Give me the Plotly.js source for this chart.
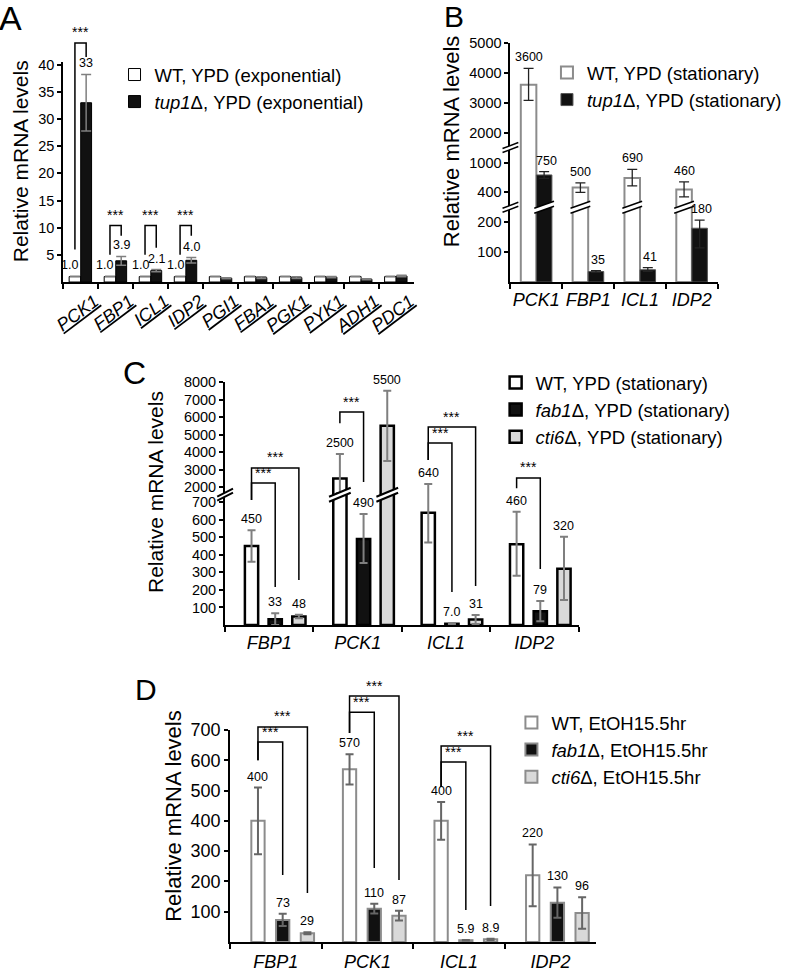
<!DOCTYPE html>
<html><head><meta charset="utf-8">
<script src="https://cdn.plot.ly/plotly-3.0.1.min.js"></script>
<style>body{margin:0;background:#fff}</style>
</head><body><div id="chart" style="width:787px;height:976px"></div>
<script>
// ---------------- data ----------------
// Panel A (exponential, YPD)
const A_genes = ['PCK1','FBP1','ICL1','IDP2','PGI1','FBA1','PGK1','PYK1','ADH1','PDC1'];
const A_wt = [1.0,1.0,1.0,1.0,1.0,1.0,1.0,1.0,1.0,1.0];
const A_wtErr = [0.05,0.05,0.05,0.05,0.05,0.05,0.05,0.05,0.05,0.05];
const A_tup1 = [33,3.9,2.1,4.0,0.7,0.8,0.8,0.9,0.5,1.1];
const A_tup1Err = [5.2,0.8,0.2,0.5,0.1,0.15,0.15,0.1,0.1,0.15];
const A_labeled = 4;
const A_yticks = [5,10,15,20,25,30,35,40];

// Panel B (stationary, YPD) – broken axis
const B_genes = ['PCK1','FBP1','ICL1','IDP2'];
const B_wt = [3600,500,690,460];
const B_wtHi = [4150,590,860,610];
const B_wtLo = [3080,400,530,370];
const B_tup1 = [750,35,41,180];
const B_tup1Hi = [815,38,48,214];
const B_tup1Lo = [680,32,36,114];
const B_yticks = [100,200,400,1000,2000,3000,4000,5000];
const B_knots = [0,200,400,1000,2000,5000];
const B_pos = [0,2,3,4,5,8];
const B_gaps = [[200,400],[1000,2000]];
const B_barBreaks = [[0,1,0],[1,0,0],[2,0,0],[3,0,0]]; // [gene, series, gap]

// Panel C (stationary, YPD) – broken axis
const C_genes = ['FBP1','PCK1','ICL1','IDP2'];
const C_wt = [450,2500,640,460];
const C_wtHi = [540,3900,2180,645];
const C_wtLo = [360,1500,470,280];
const C_fab1 = [33,490,7.0,79];
const C_fab1Hi = [67,633,10,137];
const C_fab1Lo = [0,354,4,21];
const C_cti6 = [48,5500,31,320];
const C_cti6Hi = [58,7500,57,503];
const C_cti6Lo = [38,3500,5,143];
const C_yticks = [100,200,300,400,500,600,700,2000,3000,4000,5000,6000,7000,8000];
const C_knots = [0,700,2000,8000];
const C_pos = [0,7,7.85,13.85];
const C_gaps = [[700,2000]];
const C_barBreaks = [[1,0,0],[1,2,0]];

// Panel D (EtOH 15.5 hr)
const D_genes = ['FBP1','PCK1','ICL1','IDP2'];
const D_wt = [400,570,400,220];
const D_wtErr = [110,50,62,102];
const D_fab1 = [73,110,5.9,130];
const D_fab1Err = [20,16,1,50];
const D_cti6 = [29,87,8.9,96];
const D_cti6Err = [3,16,2,52];
const D_yticks = [100,200,300,400,500,600,700];

// significance brackets: [gene, fromSeries, toSeries, leftLegBottom, top, rightLegBottom] (axis units)
const A_brackets = [[0,0,1,6.0,44.0,41.4],[1,0,1,5.0,10.4,8.5],[2,0,1,5.0,10.4,6.3],[3,0,1,5.0,10.4,8.5]];
const C_brackets = [[0,0,1,7.12,8.09,2.17],[0,0,2,7.12,8.95,2.56],[1,0,1,11.5,12.14,8.15],
                    [2,0,1,9.4,10.37,1.88],[2,0,2,9.4,11.28,2.22],[3,0,1,7.8,8.38,3.19]];
const D_brackets = [[0,0,1,600,660,221],[0,0,2,600,710,162],[1,0,1,690,759,244],
                    [1,0,2,690,812,205],[2,0,1,512,594,106],[2,0,2,512,647,119]];

// ---------------- geometry helpers ----------------
const FONT = 'Liberation Sans, Arial, Helvetica, sans-serif';
const W = 787, H = 976;
const PANELS = {
  A:{x0:64, x1:419, yTop:62, yBot:282, n:10, ymax:40.5, xa:'x', ya:'y'},
  B:{x0:517, x1:727, yTop:43, yBot:282, n:4, ymax:8, xa:'x2', ya:'y2'},
  C:{x0:228, x1:586, yTop:382, yBot:625, n:4, ymax:13.85, xa:'x3', ya:'y3'},
  D:{x0:233, x1:604, yTop:730, yBot:942, n:4, ymax:700, xa:'x4', ya:'y4'}
};
const xpx = (p, xd) => p.x0 + (xd + 0.5) / p.n * (p.x1 - p.x0);
const ypx = (p, yd) => p.yBot - yd / p.ymax * (p.yBot - p.yTop);
const fx = px => px / W;
const fy = py => 1 - py / H;
function piecewise(knots, pos) {
  return v => {
    let i = 1;
    while (i < knots.length - 1 && v > knots[i]) i++;
    return pos[i-1] + (v - knots[i-1]) / (knots[i] - knots[i-1]) * (pos[i] - pos[i-1]);
  };
}
const ident = v => v;
const dB = piecewise(B_knots, B_pos);
const dC = piecewise(C_knots, C_pos);
const fmt = v => v < 10 ? v.toFixed(1) : String(Math.round(v));

const traces = [], shapes = [], annotations = [];

function addBar(p, cats, vals, hi, lo, d, o) {
  traces.push({
    type:'bar', x: cats, y: vals.map(d), offset: o.c - o.w/2, width: o.w,
    xaxis: p.xa, yaxis: p.ya, name: o.name, legend: o.legend,
    marker:{color:o.fill, line:{color:o.line, width:o.lw}},
    error_y:{type:'data', symmetric:false,
      array: vals.map((v,i)=>d(hi[i])-d(v)),
      arrayminus: vals.map((v,i)=>Math.max(0, d(v)-d(lo[i]))),
      color:o.ec, thickness:o.et, width:o.ew},
    hoverinfo:'skip', cliponaxis:false
  });
}
function addLabels(p, vals, hi, d, center, n, size, xshift) {
  for (let i = 0; i < n; i++) {
    annotations.push({xref:'paper', yref:'paper', x: fx(xpx(p, i + center)),
      y: fy(ypx(p, d(hi[i])) - 2), xanchor:'center', yanchor:'bottom', xshift: xshift || 0,
      text: fmt(vals[i]), showarrow:false, font:{family:FONT, size:size, color:'#000000'}});
  }
}
function addBrackets(p, list, centers) {
  list.forEach(b => {
    const xl = xpx(p, b[0] + centers[b[1]]), xr = xpx(p, b[0] + centers[b[2]]);
    const yl = ypx(p, b[3]), yt = ypx(p, b[4]), yr = ypx(p, b[5]);
    shapes.push({type:'path', xref:'paper', yref:'paper',
      path:`M${fx(xl)},${fy(yl)} L${fx(xl)},${fy(yt)} L${fx(xr)},${fy(yt)} L${fx(xr)},${fy(yr)}`,
      line:{color:'#000', width:1.5}});
    annotations.push({xref:'paper', yref:'paper', x: fx((xl+xr)/2), y: fy(yt - 0.5),
      xanchor:'center', yanchor:'bottom', text:'***', showarrow:false,
      font:{family:FONT, size:14, color:'#000'}});
  });
}
function addBreak(cx, cy, hw, rise, gap, lw) {
  const L = cx - hw, R = cx + hw;
  const t1 = cy - gap/2 + rise/2, t2 = cy - gap/2 - rise/2;
  const b1 = t1 + gap, b2 = t2 + gap;
  shapes.push({type:'path', xref:'paper', yref:'paper',
    path:`M${fx(L)},${fy(t1)} L${fx(R)},${fy(t2)} L${fx(R)},${fy(b2)} L${fx(L)},${fy(b1)} Z`,
    fillcolor:'#fff', line:{width:0}});
  [[t1,t2],[b1,b2]].forEach(s => shapes.push({type:'line', xref:'paper', yref:'paper',
    x0:fx(L), y0:fy(s[0]), x1:fx(R), y1:fy(s[1]), line:{color:'#000', width:lw}}));
}

// ---------------- Panel A ----------------
const PA = PANELS.A, A_c = [-0.165, 0.155], A_w = [0.33, 0.31];
addBar(PA, A_genes, A_wt, A_wt.map((v,i)=>v+A_wtErr[i]), A_wt.map((v,i)=>v-A_wtErr[i]), ident,
  {c:A_c[0], w:A_w[0], name:'WT, YPD (exponential)', legend:'legend', fill:'#fff', line:'#000', lw:1,
   ec:'#7f7f7f', et:1.5, ew:5});
addBar(PA, A_genes, A_tup1, A_tup1.map((v,i)=>v+A_tup1Err[i]), A_tup1.map((v,i)=>v-A_tup1Err[i]), ident,
  {c:A_c[1], w:A_w[1], name:'<i>tup1</i>Δ, YPD (exponential)', legend:'legend', fill:'#111', line:'#000', lw:1,
   ec:'#7f7f7f', et:1.5, ew:5});
addLabels(PA, A_wt, A_wt.map((v,i)=>v+A_wtErr[i]), ident, A_c[0], A_labeled, 12.5, -5);
addLabels(PA, A_tup1, A_tup1.map((v,i)=>v+A_tup1Err[i]), ident, A_c[1], A_labeled, 12.5, 0);
addBrackets(PA, A_brackets, A_c);

// ---------------- Panel B ----------------
const PB = PANELS.B, B_c = [-0.15, 0.15], B_w = 0.3;
addBar(PB, B_genes, B_wt, B_wtHi, B_wtLo, dB,
  {c:B_c[0], w:B_w, name:'WT, YPD (stationary)', legend:'legend2', fill:'#fff', line:'#8c8c8c', lw:2,
   ec:'#222', et:1.3, ew:5});
addBar(PB, B_genes, B_tup1, B_tup1Hi, B_tup1Lo, dB,
  {c:B_c[1], w:B_w, name:'<i>tup1</i>Δ, YPD (stationary)', legend:'legend2', fill:'#111', line:'#555', lw:1,
   ec:'#222', et:1.3, ew:5});
addLabels(PB, B_wt, B_wtHi, dB, B_c[0], 4, 12.5, 0);
addLabels(PB, B_tup1, B_tup1Hi, dB, B_c[1], 4, 12.5, 2);
const B_gapPos = B_gaps.map(g => (dB(g[0]) + dB(g[1])) / 2);
B_gapPos.forEach(g => addBreak(PB.x0, ypx(PB, g), 8, 6, 4, 1.5));
B_barBreaks.forEach(b => addBreak(xpx(PB, b[0] + B_c[b[1]]), ypx(PB, B_gapPos[b[2]]), 10, 7, 5, 1.5));

// ---------------- Panel C ----------------
const PC = PANELS.C, C_c = [-0.201, 0.067, 0.335], C_w = 0.15;
const C_style = {line:'#000', lw:2.5, ec:'#7f7f7f', et:2, ew:4, w:C_w};
addBar(PC, C_genes, C_wt, C_wtHi, C_wtLo, dC, Object.assign({c:C_c[0], name:'WT, YPD (stationary)', legend:'legend3', fill:'#fff'}, C_style));
addBar(PC, C_genes, C_fab1, C_fab1Hi, C_fab1Lo, dC, Object.assign({c:C_c[1], name:'<i>fab1</i>Δ, YPD (stationary)', legend:'legend3', fill:'#111'}, C_style));
addBar(PC, C_genes, C_cti6, C_cti6Hi, C_cti6Lo, dC, Object.assign({c:C_c[2], name:'<i>cti6</i>Δ, YPD (stationary)', legend:'legend3', fill:'#d9d9d9'}, C_style));
addLabels(PC, C_wt, C_wtHi, dC, C_c[0], 4, 12.5, 0);
addLabels(PC, C_fab1, C_fab1Hi, dC, C_c[1], 4, 12.5, 0);
addLabels(PC, C_cti6, C_cti6Hi, dC, C_c[2], 4, 12.5, 0);
addBrackets(PC, C_brackets, C_c);
const C_gapPos = C_gaps.map(g => (dC(g[0]) + dC(g[1])) / 2);
C_gapPos.forEach(g => addBreak(PC.x0, ypx(PC, g), 8, 8, 4, 2));
C_barBreaks.forEach(b => addBreak(xpx(PC, b[0] + C_c[b[1]]), ypx(PC, C_gapPos[b[2]]), 11, 9, 5, 2));

// ---------------- Panel D ----------------
const PD = PANELS.D, D_c = [-0.195, 0.075, 0.345], D_w = 0.145;
const D_style = {line:'#8c8c8c', lw:2, ec:'#666', et:2, ew:4, w:D_w};
const hiOf = (v, e) => v.map((x,i)=>x+e[i]), loOf = (v, e) => v.map((x,i)=>x-e[i]);
addBar(PD, D_genes, D_wt, hiOf(D_wt,D_wtErr), loOf(D_wt,D_wtErr), ident, Object.assign({c:D_c[0], name:'WT, EtOH15.5hr', legend:'legend4', fill:'#fff'}, D_style));
addBar(PD, D_genes, D_fab1, hiOf(D_fab1,D_fab1Err), loOf(D_fab1,D_fab1Err), ident, Object.assign({c:D_c[1], name:'<i>fab1</i>Δ, EtOH15.5hr', legend:'legend4', fill:'#111'}, D_style));
addBar(PD, D_genes, D_cti6, hiOf(D_cti6,D_cti6Err), loOf(D_cti6,D_cti6Err), ident, Object.assign({c:D_c[2], name:'<i>cti6</i>Δ, EtOH15.5hr', legend:'legend4', fill:'#d9d9d9'}, D_style));
addLabels(PD, D_wt, hiOf(D_wt,D_wtErr), ident, D_c[0], 4, 12.5, 0);
addLabels(PD, D_fab1, hiOf(D_fab1,D_fab1Err), ident, D_c[1], 4, 12.5, 0);
addLabels(PD, D_cti6, hiOf(D_cti6,D_cti6Err), ident, D_c[2], 4, 12.5, 0);
addBrackets(PD, D_brackets, D_c);

// ---------------- titles & panel letters ----------------
[[21,161.5,21],[458,141,22],[158,492,21],[175,816,22]].forEach(t => annotations.push({
  xref:'paper', yref:'paper', x:fx(t[0]), y:fy(t[1]), xanchor:'center', yanchor:'middle',
  textangle:-90, text:'Relative mRNA levels', showarrow:false, font:{family:FONT, size:t[2], color:'#000'}}));
[['A',11,17.5,34],['B',460,16,30],['C',136,373,32],['D',148,689,30]].forEach(t => annotations.push({
  xref:'paper', yref:'paper', x:fx(t[1]), y:fy(t[2]), xanchor:'center', yanchor:'middle',
  text:t[0], showarrow:false, font:{family:FONT, size:t[3], color:'#000'}}));

// ---------------- axes ----------------
function xAxis(p, cats, extra) {
  return Object.assign({domain:[fx(p.x0), fx(p.x1)], anchor:p.ya, type:'category',
    categoryorder:'array', categoryarray:cats, range:[-0.5, p.n-0.5], tickson:'boundaries',
    ticks:'outside', ticklen:5, tickwidth:2, tickcolor:'#000', showline:true, linecolor:'#000',
    linewidth:2, showgrid:false, zeroline:false, fixedrange:true, tickangle:0,
    tickfont:{family:FONT, size:18, color:'#000', style:'italic'}}, extra || {});
}
function yAxis(p, vals, d, size) {
  return {domain:[fy(p.yBot), fy(p.yTop)], anchor:p.xa, range:[0, p.ymax], tickmode:'array',
    tickvals: vals.map(d), ticktext: vals.map(String), ticks:'outside', ticklen:4, tickwidth:2,
    tickcolor:'#000', showline:true, linecolor:'#000', linewidth:2, showgrid:false, zeroline:false,
    fixedrange:true, tickfont:{family:FONT, size:size, color:'#000'}};
}
const legendBase = {xanchor:'left', yanchor:'top', bgcolor:'rgba(0,0,0,0)', borderwidth:0,
  font:{family:FONT, size:18.5, color:'#000'}, itemclick:false, itemdoubleclick:false, traceorder:'normal'};

const layout = {
  width:W, height:H, margin:{l:0, r:0, t:0, b:0}, paper_bgcolor:'#fff', plot_bgcolor:'rgba(0,0,0,0)',
  barmode:'overlay', showlegend:true, font:{family:FONT, color:'#000'},
  xaxis: xAxis(PA, A_genes, {tickangle:-37, ticklabelshift:14,
    tickfont:{family:FONT, size:18, color:'#000', style:'italic', lineposition:'under'}}),
  yaxis: yAxis(PA, A_yticks, ident, 14.5),
  xaxis2: xAxis(PB, B_genes), yaxis2: yAxis(PB, B_yticks, dB, 14.5),
  xaxis3: xAxis(PC, C_genes), yaxis3: yAxis(PC, C_yticks, dC, 14.5),
  xaxis4: xAxis(PD, D_genes, {ticklabelstandoff:2}), yaxis4: yAxis(PD, D_yticks, ident, 18),
  legend: Object.assign({x:fx(116), y:fy(56)}, legendBase),
  legend2: Object.assign({x:fx(554), y:fy(54)}, legendBase),
  legend3: Object.assign({x:fx(502), y:fy(364)}, legendBase),
  legend4: Object.assign({x:fx(518), y:fy(704)}, legendBase),
  shapes: shapes, annotations: annotations
};
Plotly.newPlot('chart', traces, layout, {staticPlot:true, displayModeBar:false});
</script></body></html>
